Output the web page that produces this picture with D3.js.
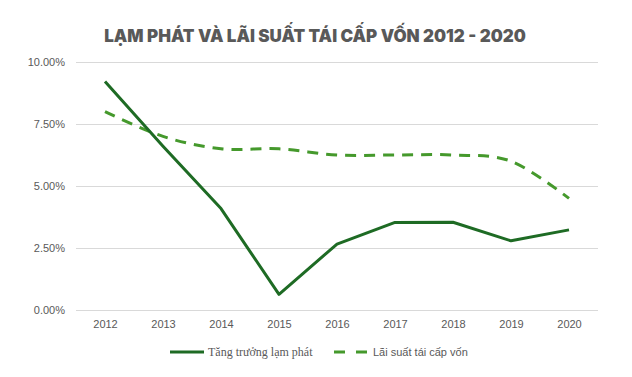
<!DOCTYPE html>
<html><head><meta charset="utf-8">
<script src="https://cdn.jsdelivr.net/npm/d3@7"></script>
<style>body{margin:0;background:#fff}svg{display:block}</style>
</head><body><svg id="c" width="632" height="377"></svg>
<script>
const years = ["2012","2013","2014","2015","2016","2017","2018","2019","2020"];
const inflation = [9.21, 6.60, 4.09, 0.63, 2.66, 3.53, 3.54, 2.79, 3.23];
const refinanceRate = [8.0, 7.0, 6.5, 6.5, 6.25, 6.25, 6.25, 6.0, 4.5];
const yTicks = [0, 2.5, 5, 7.5, 10];
const seriesNames = ["Tăng trưởng lạm phát", "Lãi suất tái cấp vốn"];
const title = "LẠM PHÁT VÀ LÃI SUẤT TÁI CẤP VỐN 2012 - 2020";

const svg = d3.select("#c");
const mLeft = 76, mRight = 598, mTop = 62, mBottom = 310;
const x = d3.scalePoint().domain(years).range([mLeft, mRight]).padding(0.5);
const y = d3.scaleLinear().domain([0, 10]).range([mBottom, mTop]);
const c1 = "#1e6b24", c2 = "#45992c";

svg.append("text").attr("x", 315).attr("y", 42).attr("text-anchor", "middle")
  .attr("font-family", "Inter, 'DejaVu Sans', sans-serif").attr("font-weight", 900)
  .attr("font-size", 17).attr("fill", "#595959").text(title);

const yAxis = d3.axisLeft(y).tickValues(yTicks).tickSize(-(mRight - mLeft)).tickPadding(11)
  .tickFormat(d => d.toFixed(2) + "%");
const gy = svg.append("g").attr("transform", `translate(${mLeft},0)`).call(yAxis);
gy.select(".domain").remove();
gy.selectAll(".tick line").attr("stroke", "#d9d9d9");
gy.selectAll(".tick text").attr("fill", "#595959").attr("font-size", 11)
  .attr("font-family", "'Liberation Sans', Arial, sans-serif");

const xAxis = d3.axisBottom(x).tickSize(0).tickPadding(10);
const gx = svg.append("g").attr("transform", `translate(0,${mBottom})`).call(xAxis);
gx.select(".domain").remove();
gx.selectAll(".tick text").attr("fill", "#595959").attr("font-size", 11)
  .attr("font-family", "'Liberation Sans', Arial, sans-serif");

const lineStraight = d3.line().x((d, i) => x(years[i])).y(d => y(d));
const lineSmooth = d3.line().x((d, i) => x(years[i])).y(d => y(d)).curve(d3.curveCatmullRom.alpha(0));

svg.append("path").datum(refinanceRate).attr("d", lineSmooth).attr("fill", "none")
  .attr("stroke", c2).attr("stroke-width", 3).attr("stroke-dasharray", "11,8");
svg.append("path").datum(inflation).attr("d", lineStraight).attr("fill", "none")
  .attr("stroke", c1).attr("stroke-width", 3).attr("stroke-linejoin", "round");

// legend
const ly = 352;
svg.append("line").attr("x1", 170).attr("x2", 204).attr("y1", ly).attr("y2", ly)
  .attr("stroke", c1).attr("stroke-width", 3);
svg.append("text").attr("x", 208).attr("y", ly + 4).attr("font-size", 12)
  .attr("font-family", "'Liberation Serif', 'Times New Roman', serif").attr("fill", "#595959").text(seriesNames[0]);
svg.append("line").attr("x1", 334).attr("x2", 367).attr("y1", ly).attr("y2", ly)
  .attr("stroke", c2).attr("stroke-width", 3).attr("stroke-dasharray", "11,11");
svg.append("text").attr("x", 373).attr("y", ly + 4).attr("font-size", 11)
  .attr("font-family", "'Liberation Sans', Arial, sans-serif").attr("fill", "#595959").text(seriesNames[1]);
</script></body></html>
